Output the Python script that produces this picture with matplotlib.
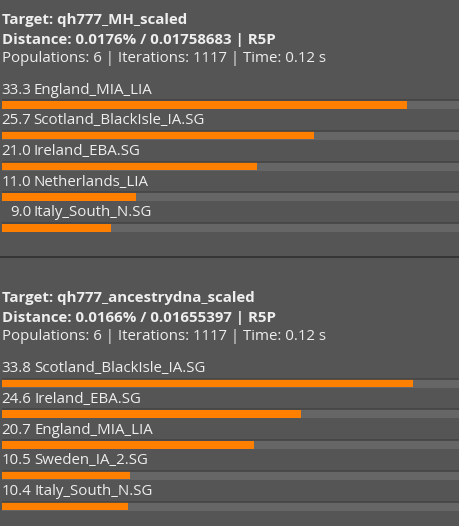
import matplotlib.pyplot as plt
from matplotlib.transforms import blended_transform_factory

# block 1
title1 = 'Target: qh777_MH_scaled'
dist1 = 'Distance: 0.0176% / 0.01758683 | R5P'
info1 = 'Populations: 6 | Iterations: 1117 | Time: 0.12 s'
pops1 = ['England_MIA_LIA', 'Scotland_BlackIsle_IA.SG', 'Ireland_EBA.SG',
         'Netherlands_LIA', 'Italy_South_N.SG']
vals1 = [33.3, 25.7, 21.0, 11.0, 9.0]

# block 2
title2 = 'Target: qh777_ancestrydna_scaled'
dist2 = 'Distance: 0.0166% / 0.01655397 | R5P'
info2 = 'Populations: 6 | Iterations: 1117 | Time: 0.12 s'
pops2 = ['Scotland_BlackIsle_IA.SG', 'Ireland_EBA.SG', 'England_MIA_LIA',
         'Sweden_IA_2.SG', 'Italy_South_N.SG']
vals2 = [33.8, 24.6, 20.7, 10.5, 10.4]

W, H = 459, 526
BG = '#555555'
TRACK = '#666666'
EDGE = '#454545'
ORANGE = '#ff7f00'
TXT = '#eeeeee'
FONT = ['Open Sans', 'DejaVu Sans']
FS = 10.8

fig = plt.figure(figsize=(W / 100, H / 100), dpi=100, facecolor=BG)

XMAX = 37.6      # track spans this many percent
ROW = 30.75      # px between rows
BAR_H = 9        # px


def fy(py):
    return 1 - py / H


def block(top_y, first_bar_y, title, dist, info, pops, vals, name_x):
    # header
    fig.text(2 / W, fy(top_y), title, color=TXT, fontsize=FS,
             fontweight='bold', va='center', family=FONT)
    fig.text(2 / W, fy(top_y + 20), dist, color=TXT, fontsize=FS,
             fontweight='bold', va='center', family=FONT)
    fig.text(2 / W, fy(top_y + 39), info, color=TXT, fontsize=FS,
             va='center', family=FONT)

    n = len(vals)
    lo, hi = -1.0, n - 0.4
    ax_top = first_bar_y + lo * ROW
    ax_bot = first_bar_y + hi * ROW
    ax = fig.add_axes([2 / W, fy(ax_bot), (W - 2) / W, (ax_bot - ax_top) / H])
    ax.set_xlim(0, XMAX)
    ax.set_ylim(hi, lo)
    ax.axis('off')

    rows = list(range(n))
    h = BAR_H / ROW
    ax.barh(rows, [XMAX] * n, height=h, color=TRACK, linewidth=0)
    ax.hlines([r - h / 2 for r in rows], 0, XMAX, color=EDGE, linewidth=1.2)
    ax.barh(rows, vals, height=h - 1 / ROW, color=ORANGE, linewidth=0,
            align='center')

    tr = blended_transform_factory(fig.transFigure, ax.transData)
    for r, (p, v) in enumerate(zip(pops, vals)):
        y = r - 14.7 / ROW
        ax.text(31 / W, y, f'{v:.1f}', transform=tr, ha='right', va='center',
                color=TXT, fontsize=FS, family=FONT)
        ax.text(name_x / W, y, p, transform=tr, ha='left', va='center',
                color=TXT, fontsize=FS, family=FONT)


block(20, 104.7, title1, dist1, info1, pops1, vals1, 33.5)
block(298, 383.2, title2, dist2, info2, pops2, vals2, 34.5)

# separator between the two results
fig.add_artist(plt.Line2D([0, 1], [fy(257.5), fy(257.5)], transform=fig.transFigure,
                          color='#333333', linewidth=1.3))

fig.savefig('out.png', dpi=100, facecolor=BG)
